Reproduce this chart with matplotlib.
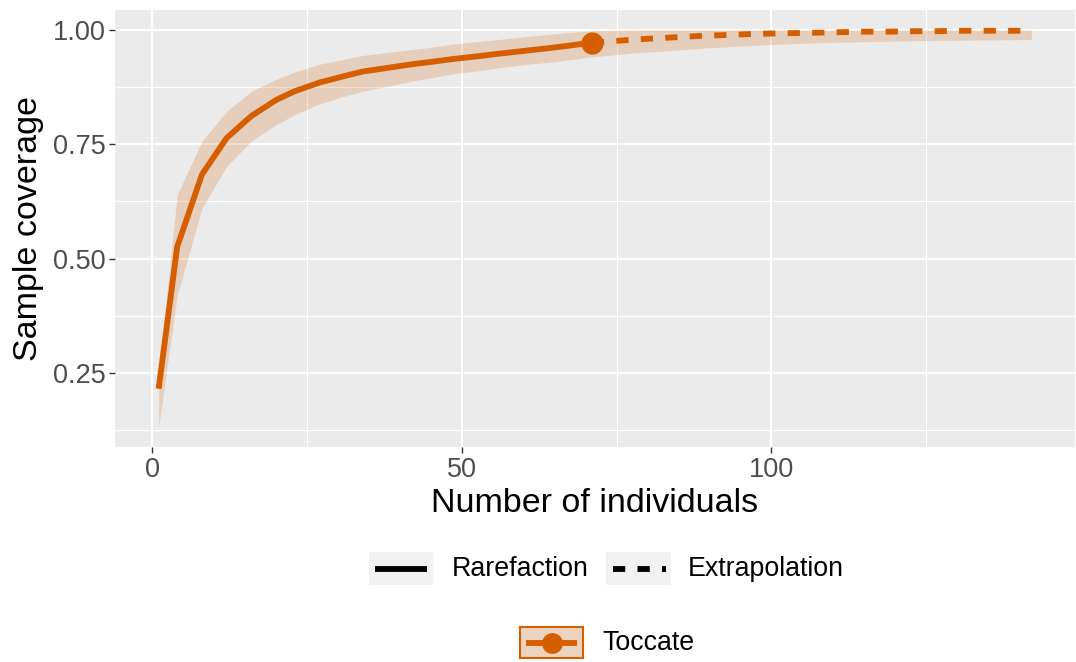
import numpy as np
import matplotlib
matplotlib.use("Agg")
import matplotlib.pyplot as plt
from matplotlib.patches import Rectangle

plt.rcParams['font.family'] = ['Liberation Sans', 'DejaVu Sans']

# ---- data ----
rare_m = [1, 4, 8, 12, 16, 20, 23, 27, 31, 34, 38, 42, 45, 49, 53, 56, 60, 64, 67, 71]
rare_sc = [0.216, 0.526, 0.684, 0.764, 0.812, 0.847, 0.866, 0.885, 0.899, 0.909,
           0.917, 0.925, 0.930, 0.937, 0.943, 0.948, 0.954, 0.960, 0.965, 0.972]
rare_lcl = [0.132, 0.420, 0.610, 0.702, 0.757, 0.793, 0.815, 0.838, 0.855, 0.866,
            0.877, 0.888, 0.895, 0.905, 0.911, 0.917, 0.924, 0.929, 0.934, 0.941]
rare_ucl = [0.250, 0.640, 0.757, 0.822, 0.866, 0.892, 0.908, 0.925, 0.936, 0.944,
            0.951, 0.957, 0.962, 0.970, 0.975, 0.979, 0.985, 0.990, 0.994, 0.998]

ext_m = [71, 75, 78, 82, 86, 89, 93, 97, 100, 104, 108, 111, 115, 119, 122, 126, 130, 133, 137, 142]
ext_sc = [0.972, 0.976, 0.979, 0.982, 0.985, 0.987, 0.989, 0.991, 0.992, 0.993,
          0.994, 0.995, 0.996, 0.996, 0.997, 0.997, 0.998, 0.998, 0.998, 0.998]
ext_lcl = [0.941, 0.946, 0.950, 0.953, 0.957, 0.960, 0.963, 0.966, 0.968, 0.970,
           0.972, 0.973, 0.974, 0.975, 0.976, 0.977, 0.977, 0.978, 0.978, 0.979]
ext_ucl = [0.998, 0.999, 1.000, 1.000, 1.000, 1.000, 1.000, 1.000, 1.000, 1.000,
           1.000, 1.000, 1.000, 1.000, 1.000, 1.000, 1.000, 1.000, 1.000, 1.000]

obs_m = 71
obs_sc = 0.972
site = "Toccate"

col = "#D55E00"
panel_bg = "#EBEBEB"
lw = 4.2

W, H = 1076, 662
fig = plt.figure(figsize=(W / 100, H / 100), dpi=100)

def px_axes(x0, y0, x1, y1):
    # rectangle given in pixel coords (top-left origin)
    return fig.add_axes([x0 / W, 1 - y1 / H, (x1 - x0) / W, (y1 - y0) / H])

ax = px_axes(115, 10, 1075, 447)
ax.set_facecolor(panel_bg)

# confidence band
ax.fill_between(rare_m, rare_lcl, rare_ucl, color=col, alpha=0.2, lw=0)
ax.fill_between(ext_m, ext_lcl, ext_ucl, color=col, alpha=0.2, lw=0)

ax.plot(rare_m, rare_sc, color=col, lw=lw, solid_capstyle='butt', solid_joinstyle='round')
ax.plot(ext_m, ext_sc, color=col, lw=lw, dashes=(2.1, 2.1), dash_capstyle='butt')
ax.plot([obs_m], [obs_sc], 'o', color=col, ms=16, mew=0)

xmin, xmax = 1, 142
ymin, ymax = min(rare_lcl), max(ext_ucl)
xpad = (xmax - xmin) * 0.05
ypad = (ymax - ymin) * 0.05
ax.set_xlim(xmin - xpad, xmax + xpad)
ax.set_ylim(ymin - ypad, ymax + ypad)

ax.set_xticks([0, 50, 100])
ax.set_xticks([25, 75, 125], minor=True)
ax.set_yticks([0.25, 0.50, 0.75, 1.00])
ax.set_yticks([0.125, 0.375, 0.625, 0.875], minor=True)
ax.set_yticklabels(["0.25", "0.50", "0.75", "1.00"])
ax.grid(which='major', color='white', lw=1.5)
ax.grid(which='minor', color='white', lw=0.8)
ax.set_axisbelow(True)
for s in ax.spines.values():
    s.set_visible(False)
ax.tick_params(which='major', length=4, width=1, color='#333333',
               labelcolor='#4D4D4D', labelsize=19.5, pad=3)
ax.tick_params(which='minor', length=0)

ax.set_xlabel("Number of individuals", fontsize=24.5, color='black', labelpad=4)
ax.set_ylabel("Sample coverage", fontsize=24.5, color='black', labelpad=6)

# ---- legends (ggplot style, drawn below the panel) ----
def key_axes(x0, y0, x1, y1, face, edge=None):
    k = px_axes(x0, y0, x1, y1)
    k.set_xlim(0, 1)
    k.set_ylim(0, 1)
    k.set_xticks([])
    k.set_yticks([])
    k.set_facecolor(face)
    for s in k.spines.values():
        if edge is None:
            s.set_visible(False)
        else:
            s.set_color(edge)
            s.set_linewidth(1.5)
    return k

k1 = key_axes(369, 552, 433, 585, '#F2F2F2')
k1.plot([0.1, 0.9], [0.5, 0.5], color='black', lw=lw, solid_capstyle='butt')
fig.text(452 / W, 1 - 569 / H, "Rarefaction", fontsize=19.3, va='center', ha='left')

k2 = key_axes(606, 552, 671, 585, '#F2F2F2')
k2.plot([0.1, 0.92], [0.5, 0.5], color='black', lw=lw, dashes=(2.1, 2.1),
        dash_capstyle='butt')
fig.text(688 / W, 1 - 569 / H, "Extrapolation", fontsize=19.3, va='center', ha='left')

k3 = key_axes(520, 627, 583, 658, '#F2F2F2', edge=col)
k3.add_patch(Rectangle((0, 0), 1, 1, color=col, alpha=0.2, lw=0))
k3.plot([0.1, 0.9], [0.5, 0.5], color=col, lw=lw, solid_capstyle='butt')
k3.plot([0.5], [0.5], 'o', color=col, ms=15, mew=0)
fig.text(602 / W, 1 - 643 / H, site, fontsize=19.3, va='center', ha='left')

fig.savefig("out.png", dpi=100, facecolor='white')
